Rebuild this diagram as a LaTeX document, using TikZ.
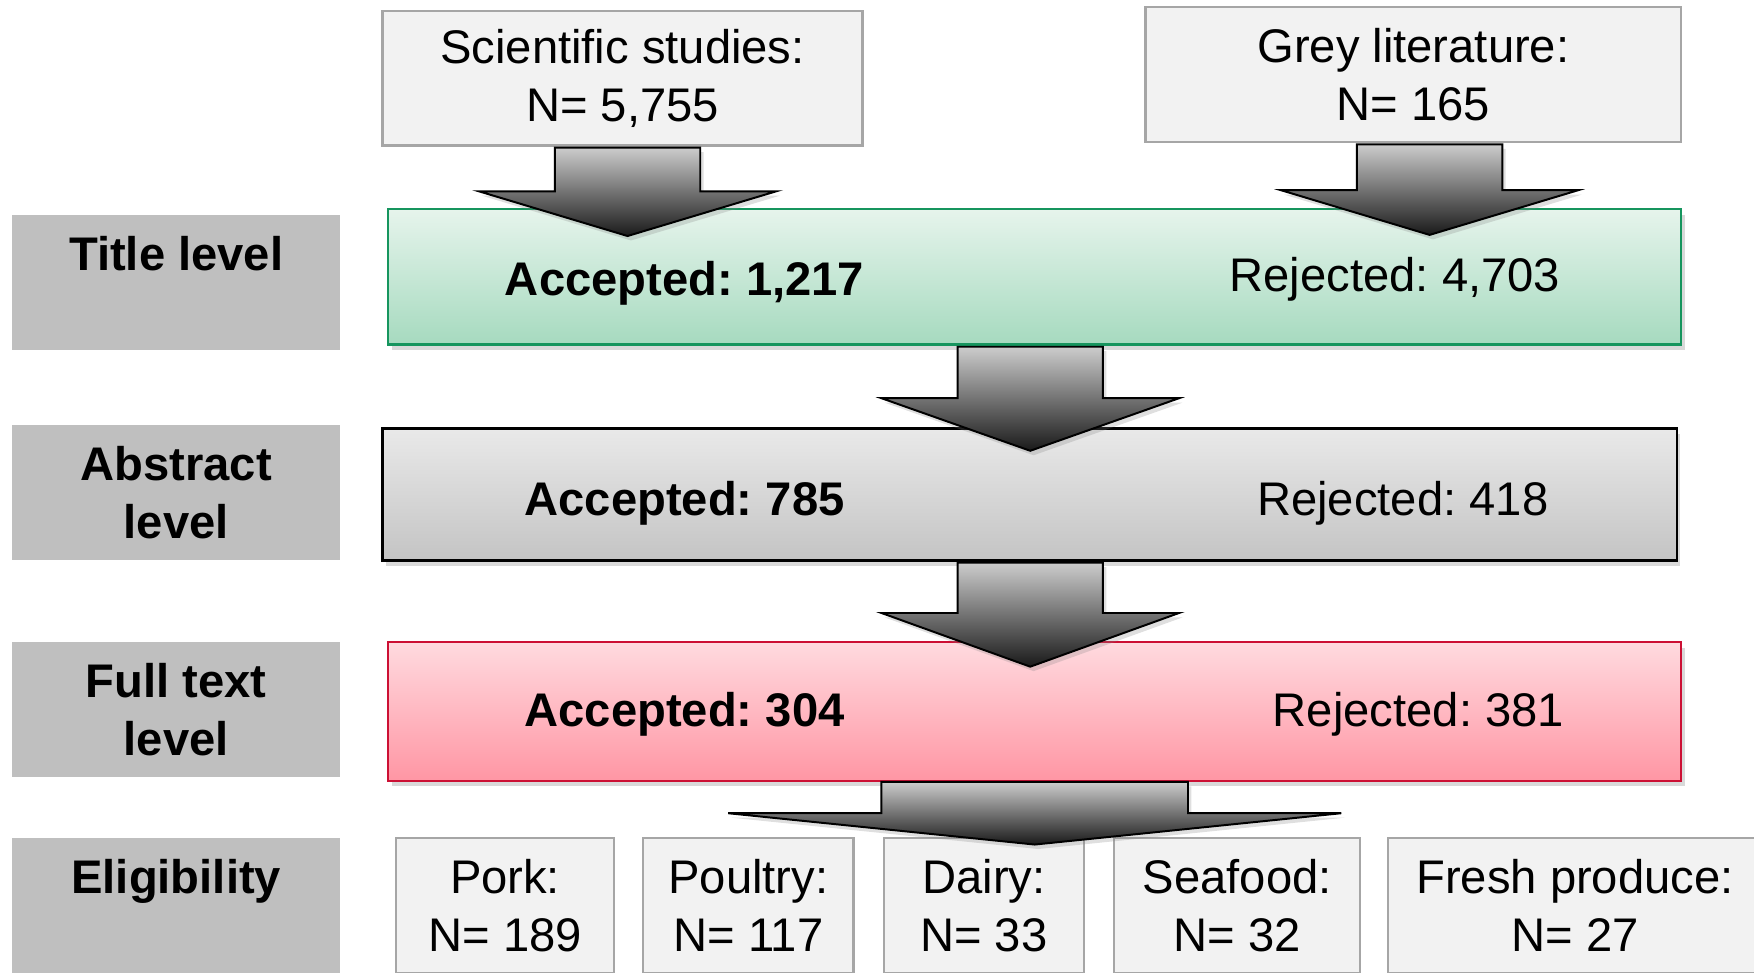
\documentclass[tikz,border=0pt]{standalone}
\usepackage{fontspec}
\setmainfont{Liberation Sans}
\usepackage{tikz}
\usetikzlibrary{calc, shadows}
\frenchspacing
\definecolor{labelgrey}{HTML}{BFBFBF}
\definecolor{srcfill}{HTML}{F2F2F2}
\definecolor{srcedge}{HTML}{A6A6A6}
\definecolor{greentop}{HTML}{E6F4EC}
\definecolor{greenbot}{HTML}{A6DABF}
\definecolor{greenedge}{HTML}{16955E}
\definecolor{greytop}{HTML}{E9E9E9}
\definecolor{greybot}{HTML}{C4C4C4}
\definecolor{pinktop}{HTML}{FFDADF}
\definecolor{pinkbot}{HTML}{FF96A4}
\definecolor{pinkedge}{HTML}{CC1034}
% block arrow: top centre, tip, half shaft, half head, shaft length
\newcommand{\blockarrow}[5]{%
  \path[bigarr] ($(#1)+(-#3,0)$) -- ($(#1)+(-#3,#5)$) -- ($(#1)+(-#4,#5)$) -- (#2)
    -- ($(#1)+(#4,#5)$) -- ($(#1)+(#3,#5)$) -- ($(#1)+(#3,0)$) -- cycle;}

\begin{document}
\begin{tikzpicture}[
  x=0.1mm, y=-0.1mm,
  font=\fontsize{12}{14.8}\selectfont,
  level/.style={
    fill=labelgrey, minimum width=29.3mm, minimum height=12.1mm,
    inner sep=0pt, align=center, font=\fontsize{12}{14.8}\selectfont\bfseries
  },
  src/.style={
    draw=srcedge, fill=srcfill, line width=0.6pt, inner sep=0pt,
    minimum height=12.1mm, align=center
  },
  stage/.style={
    line width=0.6pt, inner sep=0pt, minimum width=115.6mm,
    drop shadow={opacity=0.3, shadow xshift=0.3mm, shadow yshift=-0.5mm}
  },
  acc/.style={font=\fontsize{12}{14.8}\selectfont\bfseries},
  bigarr/.style={
    draw=black, line width=0.5pt, top color=black!20, bottom color=black!90,
    drop shadow={opacity=0.25, shadow xshift=0.3mm, shadow yshift=-0.4mm}
  }
]
  \useasboundingbox (0,0) rectangle (1568,869);
  \clip (0,0) rectangle (1568,869);

  % levels on the left
  \node[level] (tl) at (157.5,252.5) {Title level\\\mbox{}};
  \node[level] (al) at (157.5,440.5) {Abstract\\level};
  \node[level] (fl) at (157.5,634.5) {Full text\\level};
  \node[level] (el) at (157.5,809.5) {Eligibility\\\mbox{}};

  % sources
  \node[src, minimum width=42.9mm, minimum height=12mm] (sci) at (556.5,70)
    {Scientific studies:\\N= 5,755};
  \node[src, minimum width=47.9mm] (grey) at (1263.5,66.5)
    {Grey literature:\\N= 165};

  % screening stages
  \node[stage, draw=greenedge, top color=greentop, bottom color=greenbot,
    minimum height=12.1mm] (title) at (925,247.5) {};
  \node[stage, draw=black, top color=greytop, bottom color=greybot,
    minimum width=115.7mm, minimum height=11.8mm] (abs) at (920.5,442) {};
  \node[stage, draw=pinkedge, top color=pinktop, bottom color=pinkbot,
    minimum height=12.4mm] (full) at (925,636) {};

  \node[acc] (acc1) at (612,253) {Accepted: 1,217};
  \node (rej1) at (1247,250) {Rejected: 4,703};
  \node[acc] (acc2) at (612,450) {Accepted: 785};
  \node (rej2) at (1254,450) {Rejected: 418};
  \node[acc] (acc3) at (612,639) {Accepted: 304};
  \node (rej3) at (1268,639) {Rejected: 381};

  % eligible studies
  \foreach \n/\x/\w/\t/\v in {e1/451.5/19.5/Pork/189, e2/669/18.8/Poultry/117,
      e3/879.5/17.9/Dairy/33, e4/1106/22/Seafood/32, e5/1408/33.4/Fresh produce/27}
    \node[src, minimum width=\w mm] (\n) at (\x,809.5) {\t:\\N= \v};

  % arrows
  \coordinate (a1) at (561,132);  \coordinate (a1tip) at (561,211);
  \coordinate (a2) at (1278,129); \coordinate (a2tip) at (1278,210);
  \coordinate (a3) at (921,310);  \coordinate (a3tip) at (921,403);
  \coordinate (a4) at (921,503);  \coordinate (a4tip) at (921,596);
  \coordinate (a5) at (925,699);  \coordinate (a5tip) at (925,755);
  \blockarrow{a1}{a1tip}{65}{133}{39}
  \blockarrow{a2}{a2tip}{65}{133}{41}
  \blockarrow{a3}{a3tip}{65}{133}{46}
  \blockarrow{a4}{a4tip}{65}{133}{45}
  \blockarrow{a5}{a5tip}{137}{274}{28}
\end{tikzpicture}
\end{document}
